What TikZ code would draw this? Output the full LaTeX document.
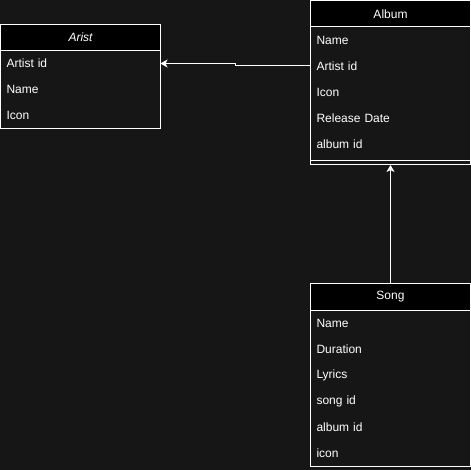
\documentclass[tikz,border=0pt]{standalone}
\usepackage{fontspec}
\setmainfont{Liberation Sans}
\usetikzlibrary{arrows.meta, positioning, calc}
\definecolor{DarkBg}{HTML}{161616}

\begin{document}
\begin{tikzpicture}[
    x=1pt, y=-1pt,
    every node/.style={text=white, font=\fontsize{12}{14}\selectfont, outer sep=0pt},
    table/.style={draw=white, line width=1pt, fill=DarkBg, anchor=north west,
                  inner sep=0pt, minimum width=160pt},
    head/.style={draw=white, line width=1pt, fill=black, anchor=north west,
                 inner sep=0pt, minimum width=160pt, minimum height=26pt},
    field/.style={inner xsep=6pt, inner ysep=0pt, text width=148pt,
                  minimum height=26pt, align=left},
    link/.style={draw=white, line width=1pt, -{Stealth[length=7pt, width=8pt, inset=2pt]}}
]
    \useasboundingbox (0,0) rectangle (471,470);
    \fill[DarkBg] (0,0) rectangle (471,470);

    % Arist table
    \node[table, minimum height=104pt] (arist) at (0.5,24.5) {};
    \node[head, font=\fontsize{12}{14}\selectfont\itshape] (aristHead) at (arist.north west) {Arist};
    \node[field, below=0pt of aristHead] (aristArtistId) {Artist id};
    \node[field, below=0pt of aristArtistId] (aristName) {Name};
    \node[field, below=0pt of aristName] (aristIcon) {Icon};

    % Album table
    \node[table, minimum height=164pt] (album) at (310.5,1) {};
    \node[head] (albumHead) at (album.north west) {Album};
    \node[field, below=0pt of albumHead] (albumName) {Name};
    \node[field, below=0pt of albumName] (albumArtistId) {Artist id};
    \node[field, below=0pt of albumArtistId] (albumIcon) {Icon};
    \node[field, below=0pt of albumIcon] (albumRelease) {Release Date};
    \node[field, below=0pt of albumRelease] (albumId) {album id};
    \draw[white, line width=1pt] ([yshift=4pt]album.south west) -- ([yshift=4pt]album.south east);

    % Song table
    \node[table, minimum height=182pt] (song) at (310.5,284) {};
    \node[head] (songHead) at (song.north west) {Song};
    \node[field, below=0pt of songHead] (songName) {Name};
    \node[field, below=0pt of songName] (songDuration) {Duration};
    \node[field, below=0pt of songDuration] (songLyrics) {Lyrics};
    \node[field, below=0pt of songLyrics] (songId) {song id};
    \node[field, below=0pt of songId] (songAlbumId) {album id};
    \node[field, below=0pt of songAlbumId] (songIcon) {icon};

    % Relations
    \coordinate (bend) at ($(albumArtistId.west)!0.5!(aristArtistId.east)$);
    \draw[link] (albumArtistId.west) -| (bend) |- (aristArtistId.east);
    \draw[link] (songHead.north) -- (album.south);
\end{tikzpicture}
\end{document}
